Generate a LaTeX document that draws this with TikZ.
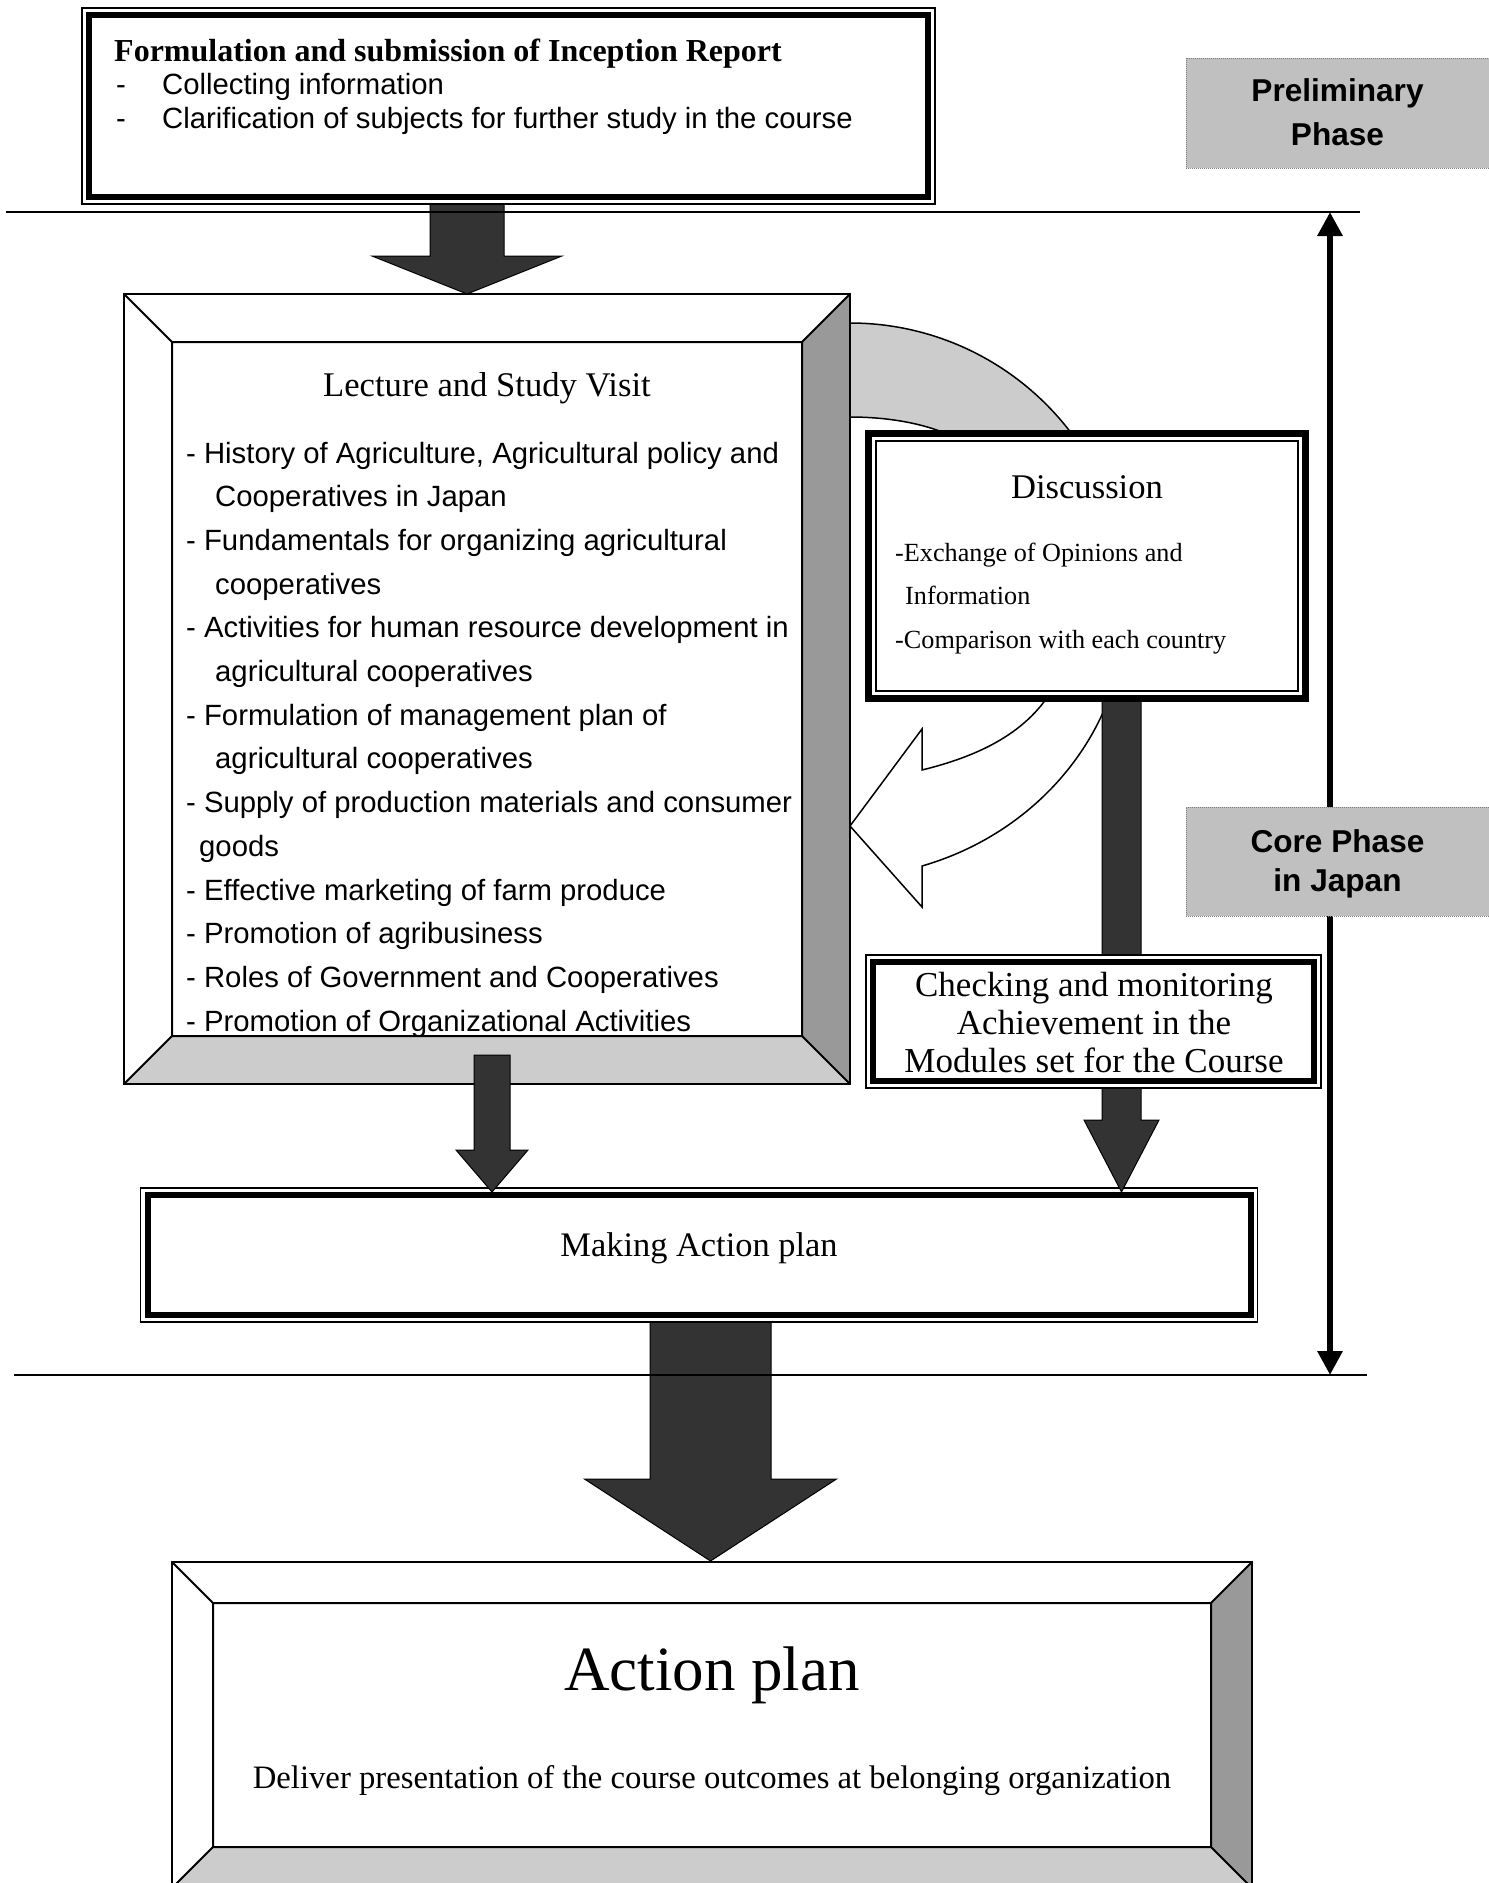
\documentclass[tikz,border=0pt]{standalone}
\usepackage{fontspec}
\setmainfont{Liberation Serif}
\setsansfont{Liberation Sans}
\usetikzlibrary{calc,arrows.meta}
\definecolor{dk}{HTML}{333333}
\definecolor{bevR}{HTML}{999999}
\definecolor{bevB}{HTML}{CCCCCC}
\definecolor{phasefill}{HTML}{C0C0C0}
\newcommand\blockdown[5]{%
  \draw[blk] let \p1=(#1), \p2=(#2) in
    (\x1-#3,\y1) -- (\x1-#3,\y2+#5) -- (\x1-#4,\y2+#5) -- (\x2,\y2)
    -- (\x1+#4,\y2+#5) -- (\x1+#3,\y2+#5) -- (\x1+#3,\y1) -- cycle;}
\newcommand\bevelframe[2]{%
  \fill[bevR] (#1.north east) -- (#1.south east) -- ($(#1.south east)+(-#2,-#2)$) -- ($(#1.north east)+(-#2,#2)$) -- cycle;
  \fill[bevB] (#1.south west) -- (#1.south east) -- ($(#1.south east)+(-#2,-#2)$) -- ($(#1.south west)+(#2,-#2)$) -- cycle;
  \draw[thinln] (#1.north west) -- ($(#1.north west)+(#2,#2)$) rectangle ($(#1.south east)+(-#2,-#2)$) -- (#1.south east);
  \draw[thinln] (#1.north east) -- ($(#1.north east)+(-#2,#2)$);
  \draw[thinln] (#1.south west) -- ($(#1.south west)+(#2,-#2)$);
  \draw[thinln] (#1.north west) rectangle (#1.south east);}
\newcommand\innerframe[3]{%
  \draw[line width=#3] ($(#1.north west)+(#2,#2)$) rectangle ($(#1.south east)+(-#2,-#2)$);}
\begin{document}
\begin{tikzpicture}[x=1pt,y=-1pt,
  thinln/.style={draw=black,line width=2pt},
  plainbox/.style={draw=black,fill=white,line width=1.5pt,inner sep=0pt,outer sep=0pt},
  phasebox/.style={draw=gray,densely dotted,fill=phasefill,line width=1pt,inner sep=0pt,outer sep=0pt},
  blk/.style={fill=dk,draw=black,line width=1pt},
  sansline/.style={anchor=base west,inner sep=0pt,font=\sffamily\fontsize{29.3}{35}\selectfont},
  phasetxt/.style={anchor=base,inner sep=0pt,font=\sffamily\bfseries\fontsize{31.6}{38}\selectfont},
  hdr/.style={anchor=base west,inner sep=0pt,font=\bfseries\fontsize{32}{38}\selectfont},
  sert/.style={anchor=base,inner sep=0pt,font=\fontsize{34.6}{41}\selectfont},
  sers/.style={anchor=base west,inner sep=0pt,font=\fontsize{26.2}{31}\selectfont}]
\useasboundingbox (0,0) rectangle (1489,1883);
\clip (0,0) rectangle (1489,1883);

% coordinates
\coordinate (vtop) at (1330,212);
\coordinate (vbot) at (1330,1375);
\coordinate (h1a) at (6,212);
\coordinate (h1b) at (1360,212);
\coordinate (h2a) at (14,1375);
\coordinate (h2b) at (1367,1375);
\coordinate (a1s) at (467,198);
\coordinate (a1t) at (467,294);
\coordinate (a2s) at (492,1055);
\coordinate (a2t) at (492,1192);
\coordinate (a3s) at (1121.5,695);
\coordinate (a3t) at (1121.5,1192);
\coordinate (a4s) at (710.5,1316);
\coordinate (a4t) at (710.5,1561);

% phase arrow and labels
\draw[line width=6.5pt,{Triangle[width=24pt,length=24pt]}-{Triangle[width=24pt,length=24pt]}] (vtop) -- (vbot);
\node[phasebox,minimum width=303pt,minimum height=110pt] (prebox) at (1337.5,113) {};
\node[phasebox,minimum width=303pt,minimum height=109pt] (corebox) at (1337.5,861.5) {};

% inception
\blockdown{a1s}{a1t}{37pt}{95pt}{38pt}
\node[plainbox,minimum width=853pt,minimum height=196pt] (incbox) at (508.5,106) {};
\innerframe{incbox}{7}{6pt}

% curved band (back part)
\filldraw[fill=bevB,draw=black,line width=1.5pt] (850,323) .. controls (945.5,323) and (1034,372) .. (1085,453) -- (960,440) .. controls (930,424) and (890,417) .. (850,417) -- cycle;

% lecture box
\node[plainbox,minimum width=726pt,minimum height=790pt] (lecbox) at (487,689) {};
\bevelframe{lecbox}{48}

% curved band (front part with head)
\filldraw[fill=white,draw=black,line width=1.5pt] (1112,690) .. controls (1083,774) and (1012,840) .. (922,866) -- (922,907) -- (850,826) -- (922,729) -- (922,770) .. controls (975,757) and (1025,735) .. (1052,690) -- cycle;

% action plan arrow & making action plan
\blockdown{a4s}{a4t}{60.5pt}{126pt}{82pt}
\node[plainbox,minimum width=1117pt,minimum height=134pt] (mapbox) at (699,1255) {};
\innerframe{mapbox}{7}{6pt}
\blockdown{a2s}{a2t}{18pt}{36pt}{42pt}
\blockdown{a3s}{a3t}{19.5pt}{37.5pt}{72pt}

% discussion
\node[draw=black,fill=white,line width=7pt,inner sep=0pt,outer sep=0pt,minimum width=437pt,minimum height=265pt] (discbox) at (1087,566) {};
\innerframe{discbox}{7.5}{1.5pt}

% checking
\node[plainbox,minimum width=455pt,minimum height=133pt] (chkbox) at (1093.5,1021.5) {};
\innerframe{chkbox}{7}{6pt}

% action plan box
\node[plainbox,minimum width=1080pt,minimum height=326pt] (apbox) at (712,1725) {};
\bevelframe{apbox}{41}

% separator lines
\draw[line width=2pt] (h1a) -- (h1b);
\draw[line width=2pt] (h2a) -- (h2b);

% texts
\node[phasetxt] (pre1) at (1337.5,101) {Preliminary};
\node[phasetxt] (pre2) at (1337.5,145) {Phase};
\node[phasetxt] (core1) at (1337.5,852) {Core Phase};
\node[phasetxt] (core2) at (1337.5,891) {in Japan};

\node[hdr] (inct) at (114,61) {Formulation and submission of Inception Report};
\node[sansline] (incd1) at (116,94) {-};
\node[sansline] (inc1) at (162,94) {Collecting information};
\node[sansline] (incd2) at (116,128) {-};
\node[sansline] (inc2) at (162,128) {Clarification of subjects for further study in the course};

\node[sert] (lect) at (487,396) {Lecture and Study Visit};
\node[sansline] (l0) at (186,463) {- History of Agriculture, Agricultural policy and};
\node[sansline] (l1) at (215,506.7) {Cooperatives in Japan};
\node[sansline] (l2) at (186,550.4) {- Fundamentals for organizing agricultural};
\node[sansline] (l3) at (215,594.1) {cooperatives};
\node[sansline] (l4) at (186,637.8) {- Activities for human resource development in};
\node[sansline] (l5) at (215,681.5) {agricultural cooperatives};
\node[sansline] (l6) at (186,725.2) {- Formulation of management plan of};
\node[sansline] (l7) at (215,768.9) {agricultural cooperatives};
\node[sansline] (l8) at (186,812.6) {- Supply of production materials and consumer};
\node[sansline] (l9) at (199,856.3) {goods};
\node[sansline] (l10) at (186,900) {- Effective marketing of farm produce};
\node[sansline] (l11) at (186,943.7) {- Promotion of agribusiness};
\node[sansline] (l12) at (186,987.4) {- Roles of Government and Cooperatives};
\node[sansline] (l13) at (186,1031.1) {- Promotion of Organizational Activities};

\node[sert] (disct) at (1087,498) {Discussion};
\node[sers] (disc1) at (895,561) {-Exchange of Opinions and};
\node[sers] (disc2) at (905,604.5) {Information};
\node[sers] (disc3) at (895,648) {-Comparison with each country};

\node[sert,font=\fontsize{35}{41}\selectfont] (chk1) at (1094,996) {Checking and monitoring};
\node[sert,font=\fontsize{35}{41}\selectfont] (chk2) at (1094,1034) {Achievement in the};
\node[sert,font=\fontsize{35}{41}\selectfont] (chk3) at (1094,1072) {Modules set for the Course};

\node[sert,font=\fontsize{34.4}{41}\selectfont] (mapt) at (699,1256) {Making Action plan};

\node[sert,font=\fontsize{63}{70}\selectfont] (apt) at (712,1690) {Action plan};
\node[sert,font=\fontsize{32.7}{39}\selectfont] (apsub) at (712,1788) {Deliver presentation of the course outcomes at belonging organization};
\end{tikzpicture}
\end{document}
